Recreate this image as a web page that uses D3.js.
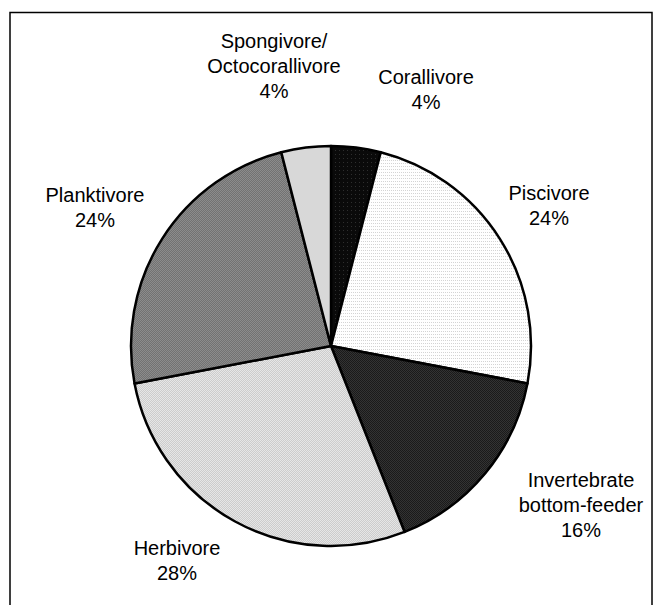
<!DOCTYPE html>
<html>
<head>
<meta charset="utf-8">
<script src="https://cdn.jsdelivr.net/npm/d3@7"></script>
<style>
html,body{margin:0;padding:0;background:#fff;}
svg{display:block;}
text{font-family:"Liberation Sans",Arial,sans-serif;font-size:20px;fill:#000;}
</style>
</head>
<body>
<svg id="chart" width="653" height="605"></svg>
<script>
const categories = ["Corallivore","Piscivore","Invertebrate bottom-feeder","Herbivore","Planktivore","Spongivore/ Octocorallivore"];
const labelLines = [["Corallivore"],["Piscivore"],["Invertebrate","bottom-feeder"],["Herbivore"],["Planktivore"],["Spongivore/","Octocorallivore"]];
const values = [4,24,16,28,24,4];

const svg = d3.select("#chart");
const cx = 331, cy = 346, R = 200;

// patterns
const defs = svg.append("defs");
function pat(id, bg, fg, cells, size){
  const p = defs.append("pattern").attr("id",id).attr("patternUnits","userSpaceOnUse")
    .attr("width",size[0]).attr("height",size[1]);
  p.append("rect").attr("width",size[0]).attr("height",size[1]).attr("fill",bg);
  cells.forEach(c=>p.append("rect").attr("x",c[0]).attr("y",c[1]).attr("width",1).attr("height",1).attr("fill",fg));
}
pat("p0","#0a0a0a","#2e2e2e",[[0,0]],[4,4]);
pat("p1","#ffffff","#d4d4d4",[[0,0],[2,0]],[4,3]);
pat("p2","#1a1a1a","#333",[[0,0],[1,1]],[2,2]);
pat("p3","#e6e6e6","#cccccc",[[0,0],[1,1]],[2,2]);
pat("p4","#8c8c8c","#727272",[[0,0],[1,1]],[2,2]);
pat("p5","#d8d8d8","#d8d8d8",[],[2,2]);
const fills = ["url(#p0)","url(#p1)","url(#p2)","url(#p3)","url(#p4)","url(#p5)"];

// border
svg.append("rect").attr("x",10).attr("y",12.5).attr("width",642).attr("height",620)
  .attr("fill","none").attr("stroke","#000").attr("stroke-width",1.5);

const pie = d3.pie().sort(null).value(d=>d)(values);
const arc = d3.arc().innerRadius(0).outerRadius(R);

const g = svg.append("g").attr("transform",`translate(${cx},${cy})`);
g.selectAll("path").data(pie).join("path")
  .attr("d",arc)
  .attr("fill",(d,i)=>fills[i])
  .attr("stroke","#000").attr("stroke-width",2.5).attr("stroke-linejoin","round");

// label anchors (center x, first baseline y), relative to pie center
const labelPos = [[95,-262],[218,-146],[250,141],[-154,209],[-236,-144],[-57,-298]];
const total = d3.sum(values);
const lineH = 25;
pie.forEach((d,i)=>{
  const lines = labelLines[i].concat([Math.round(values[i]/total*100)+"%"]);
  const t = svg.append("text").attr("text-anchor","middle");
  lines.forEach((s,j)=>{
    t.append("tspan").attr("x",cx+labelPos[i][0]).attr("y",cy+labelPos[i][1]+j*lineH).text(s);
  });
});
</script>
</body>
</html>
